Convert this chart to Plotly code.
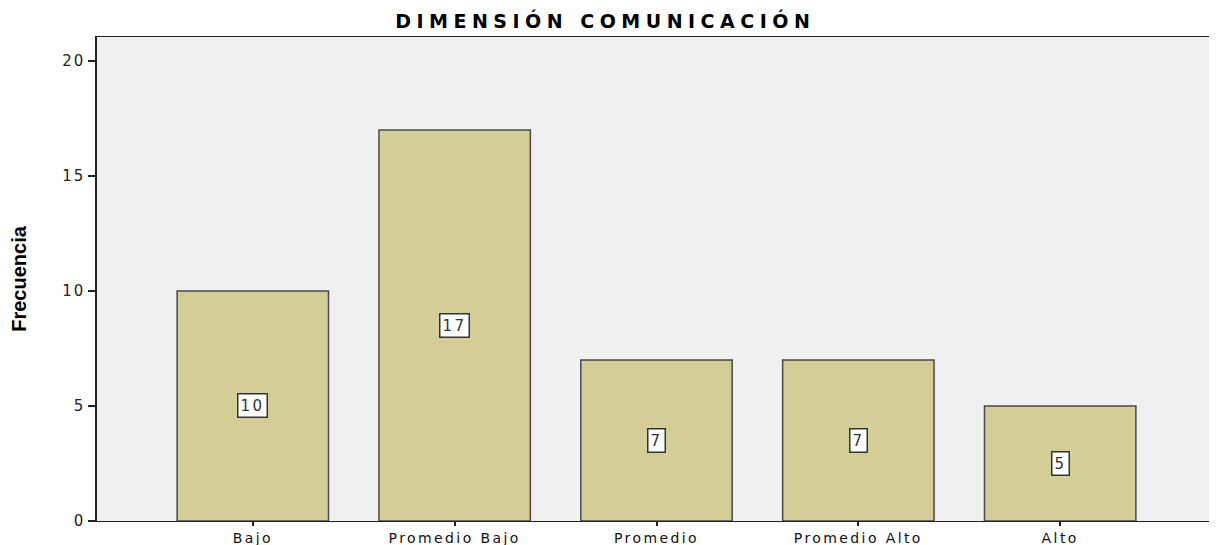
import plotly.graph_objects as go

categories = ["Bajo", "Promedio Bajo", "Promedio", "Promedio Alto", "Alto"]
values = [10, 17, 7, 7, 5]
y_ticks = [0, 5, 10, 15, 20]


def wide(t, ls):
    return f'<span style="letter-spacing:{ls}px">{t}</span>'


fig = go.Figure()
fig.add_trace(go.Bar(
    x=list(range(len(categories))), y=values, width=0.75,
    marker=dict(color="#d3cd97", line=dict(color="#4a4a4a", width=1.5)),
    hoverinfo="skip",
))

for i, v in enumerate(values):
    fig.add_annotation(x=i, y=v / 2, text=wide(str(v), 2.5), showarrow=False,
                       font=dict(family="DejaVu Sans", size=15, color="#333"),
                       bgcolor="white", bordercolor="#333", borderwidth=1.5, borderpad=2)

fig.update_layout(
    width=1209, height=537,
    margin=dict(l=89, r=1, t=29, b=24),
    paper_bgcolor="white", plot_bgcolor="#f0f0f0",
    showlegend=False,
    title=dict(text="<b>" + wide("DIMENSIÓN COMUNICACIÓN", 5.5) + "</b>", x=0.494, xanchor="center",
               y=0.988, yanchor="top",
               font=dict(family="DejaVu Sans", size=19, color="#000")),
    font=dict(family="DejaVu Sans", size=12, color="#222"),
)
fig.update_xaxes(
    range=[-0.772, 4.772], tickmode="array", tickvals=list(range(len(categories))),
    ticktext=[wide(c, 2.4) for c in categories], automargin=False,
    showgrid=False, zeroline=False, showline=True, linecolor="#222", linewidth=1.2, mirror=True,
    ticks="outside", ticklen=4, tickcolor="#222", tickwidth=1.5,
    tickfont=dict(family="DejaVu Sans", size=14, color="#111"),
)
fig.update_yaxes(
    range=[0, 21.04], tickmode="array", tickvals=y_ticks, ticktext=[wide(str(t), 2) for t in y_ticks],
    automargin=False,
    showgrid=False, zeroline=False, showline=True, linecolor="#222", linewidth=1.5, mirror=True,
    ticks="outside", ticklen=7, tickcolor="#222", tickwidth=1.5,
    tickfont=dict(family="DejaVu Sans", size=15, color="#222"),
    title=dict(text="<b>Frecuencia</b>", standoff=30,
               font=dict(family="Liberation Sans Narrow, Liberation Sans, Arial", size=20, color="#000")),
)

fig.write_html("out.html")
